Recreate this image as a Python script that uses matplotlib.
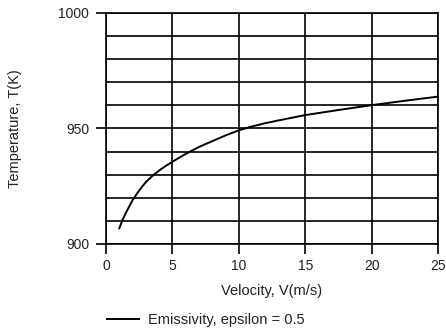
import matplotlib
matplotlib.use('Agg')
import matplotlib.pyplot as plt
from matplotlib.ticker import MultipleLocator

plt.rcParams['font.family'] = ['Liberation Sans', 'DejaVu Sans']

# velocity (m/s) and temperature (K)
velocity = [1, 1.25, 1.5, 2, 2.5, 3, 3.5, 4, 4.5, 5, 6, 7, 8, 9, 10, 11, 12,
            13, 15, 17.5, 20, 22.5, 25]
temperature = [906.8, 910.5, 913.5, 919.0, 923.2, 926.8, 929.5, 931.8, 933.8,
               935.6, 939.0, 942.0, 944.5, 947.0, 949.2, 950.9, 952.3, 953.5,
               955.8, 958.0, 960.1, 962.0, 963.8]
x_ticks = [0, 5, 10, 15, 20, 25]
y_ticks = [900, 950, 1000]

fig = plt.figure(figsize=(4.46, 3.33), dpi=100)
ax = fig.add_axes([0.2377, 0.2673, 0.7443, 0.6937])

ax.plot(velocity, temperature, color='black', linewidth=1.4,
        label='Emissivity, epsilon = 0.5')

ax.set_xlim(0, 25)
ax.set_ylim(900, 1000)
ax.set_xticks(x_ticks)
ax.set_yticks(y_ticks)
ax.yaxis.set_minor_locator(MultipleLocator(10))
ax.grid(True, which='both', color='black', linewidth=1.2)
ax.tick_params(which='major', direction='out', length=7, width=1.2,
               labelsize=10, colors='black', labelcolor='#222222')
ax.tick_params(axis='y', which='major', pad=5)
ax.tick_params(axis='x', which='major', pad=4)
ax.tick_params(which='minor', length=0)
for s in ax.spines.values():
    s.set_linewidth(1.2)

ax.set_xlabel('Velocity, V(m/s)', fontsize=10.5, color='#222222', labelpad=8)
ax.set_ylabel('Temperature, T(K)', fontsize=10.5, color='#222222', labelpad=26)

fig.legend(loc='center left', bbox_to_anchor=(0.21, 0.04), frameon=False,
           fontsize=10.5, handlelength=2.2, handletextpad=0.6,
           labelcolor='#222222')

fig.savefig('out.png', dpi=100)
